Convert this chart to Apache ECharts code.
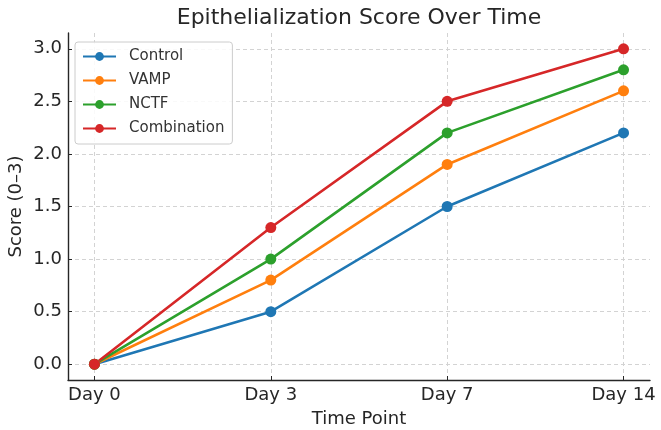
<!DOCTYPE html>
<html>
<head>
<meta charset="utf-8">
<script src="https://cdn.jsdelivr.net/npm/echarts@6/dist/echarts.min.js"></script>
<style>
  html, body { margin: 0; padding: 0; background: #fff; }
  #chart { width: 661px; height: 430px; }
</style>
</head>
<body>
<div id="chart"></div>
<script>
const days = ["Day 0", "Day 3", "Day 7", "Day 14"];
const control = [0, 0.5, 1.5, 2.2];
const vamp = [0, 0.8, 1.9, 2.6];
const nctf = [0, 1.0, 2.2, 2.8];
const combination = [0, 1.3, 2.5, 3.0];
const yTicks = [0, 0.5, 1.0, 1.5, 2.0, 2.5, 3.0];
const xTicks = days.map((d, i) => i);

const chart = echarts.init(document.getElementById("chart"));
const font = "DejaVu Sans";

const makeSeries = (name, values, color) => ({
  name: name,
  type: "line",
  data: values.map((v, i) => [i, v]),
  symbol: "circle",
  symbolSize: 11,
  lineStyle: { width: 2.6, color: color },
  itemStyle: { color: color },
  emphasis: { disabled: true },
});

const gridLine = { show: true, lineStyle: { color: "#d3d3d3", type: [4, 3], width: 1 } };

chart.setOption({
  animation: false,
  textStyle: { fontFamily: font },
  title: {
    text: "Epithelialization Score Over Time",
    left: 359,
    textAlign: "center",
    top: 7,
    padding: 0,
    textStyle: { fontFamily: font, fontSize: 22, fontWeight: "normal", color: "#262626" },
  },
  legend: {
    orient: "vertical",
    left: 75,
    top: 42,
    itemWidth: 33,
    itemHeight: 11,
    itemGap: 9,
    padding: [7, 8, 8, 7],
    backgroundColor: "rgba(255,255,255,0.85)",
    borderColor: "#cccccc",
    borderWidth: 1,
    borderRadius: 3,
    textStyle: { fontFamily: font, fontSize: 15, color: "#333", padding: [0, 0, 0, 8] },
    data: ["Control", "VAMP", "NCTF", "Combination"],
  },
  grid: { left: 68, right: 11, top: 33, bottom: 50, containLabel: false, outerBoundsMode: "none" },
  xAxis: {
    type: "value",
    min: -0.15,
    max: 3.15,
    name: "Time Point",
    nameLocation: "middle",
    nameGap: 30,
    nameMoveOverlap: false,
    nameTextStyle: { fontFamily: font, fontSize: 18, color: "#262626" },
    axisLine: { show: true, onZero: false, lineStyle: { color: "#262626", width: 1.4 } },
    axisTick: { show: true, inside: true, customValues: xTicks, length: 4, lineStyle: { color: "#262626" } },
    axisLabel: {
      customValues: xTicks,
      margin: 6,
      fontFamily: font,
      fontSize: 18,
      color: "#262626",
      formatter: (v) => days[v],
    },
    splitLine: gridLine,
  },
  yAxis: {
    type: "value",
    min: -0.15,
    max: 3.15,
    name: "Score (0–3)",
    nameLocation: "middle",
    nameGap: 43,
    nameMoveOverlap: false,
    nameTextStyle: { fontFamily: font, fontSize: 18, color: "#262626" },
    axisLine: { show: true, onZero: false, lineStyle: { color: "#262626", width: 1.4 } },
    axisTick: { show: true, inside: true, customValues: yTicks, length: 4, lineStyle: { color: "#262626" } },
    axisLabel: {
      customValues: yTicks,
      margin: 6,
      fontFamily: font,
      fontSize: 18,
      color: "#262626",
      formatter: (v) => v.toFixed(1),
    },
    splitLine: gridLine,
  },
  series: [
    makeSeries("Control", control, "#1f77b4"),
    makeSeries("VAMP", vamp, "#ff7f0e"),
    makeSeries("NCTF", nctf, "#2ca02c"),
    makeSeries("Combination", combination, "#d62728"),
  ],
});
</script>
</body>
</html>
